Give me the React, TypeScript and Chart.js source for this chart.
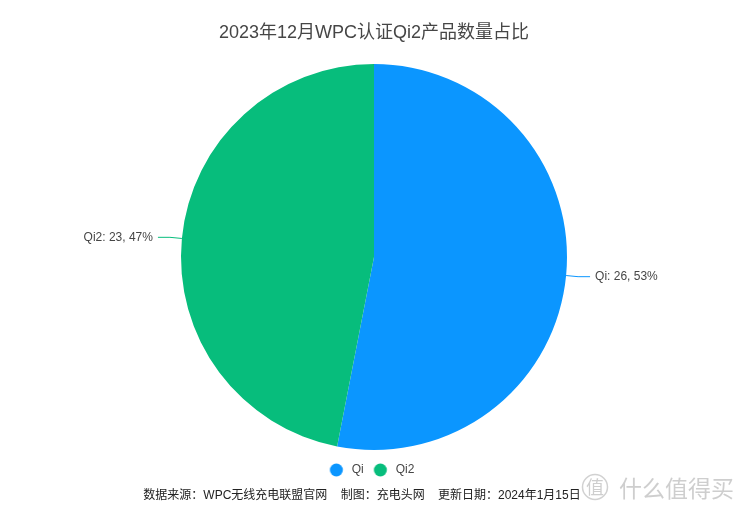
import React, { useEffect, useRef } from "react";
import { Chart, registerables } from "chart.js";

Chart.register(...registerables);

const categories = ["Qi", "Qi2"];
const values = [26, 23];
const colors = ["#0b96ff", "#07bd7c"];
const titleText = "2023年12月WPC认证Qi2产品数量占比";
const footerText = "数据来源：WPC无线充电联盟官网    制图：充电头网    更新日期：2024年1月15日";
const watermarkLogo = "值";
const watermarkText = "什么值得买";

const FONT = "'Liberation Sans', 'Noto Sans CJK SC', sans-serif";

function makeDot(color: string) {
  const c = document.createElement("canvas");
  c.width = 22;
  c.height = 14;
  const g = c.getContext("2d")!;
  g.fillStyle = color;
  g.beginPath();
  g.arc(7.7, 7, 6.5, 0, Math.PI * 2);
  g.fill();
  return c;
}

const labelPlugin = {
  id: "outLabels",
  afterDatasetsDraw(chart: any) {
    const ctx = chart.ctx;
    const meta = chart.getDatasetMeta(0);
    const data = chart.data.datasets[0].data as number[];
    const total = data.reduce((a: number, b: number) => a + b, 0);
    meta.data.forEach((arc: any, i: number) => {
      const { x, y, startAngle, endAngle, outerRadius } = arc.getProps(
        ["x", "y", "startAngle", "endAngle", "outerRadius"],
        true
      );
      const mid = (startAngle + endAngle) / 2;
      const cos = Math.cos(mid);
      const sin = Math.sin(mid);
      const x0 = x + cos * outerRadius;
      const y0 = y + sin * outerRadius;
      const x1 = x + cos * (outerRadius + 12);
      const y1 = y + sin * (outerRadius + 12);
      const dir = cos >= 0 ? 1 : -1;
      const x2 = x1 + dir * 12;
      ctx.save();
      ctx.strokeStyle = colors[i];
      ctx.lineWidth = 1;
      ctx.beginPath();
      ctx.moveTo(x0, y0);
      ctx.lineTo(x1, y1);
      ctx.lineTo(x2, y1);
      ctx.stroke();
      const pct = Math.round((data[i] / total) * 100);
      const txt = `${chart.data.labels[i]}: ${data[i]}, ${pct}%`;
      ctx.font = `12px ${FONT}`;
      ctx.fillStyle = "#464646";
      ctx.textBaseline = "middle";
      ctx.textAlign = dir > 0 ? "left" : "right";
      ctx.fillText(txt, x2 + dir * 5, y1);
      ctx.restore();
    });
  },
  afterDraw(chart: any) {
    const ctx = chart.ctx;
    ctx.save();
    ctx.font = `12px ${FONT}`;
    ctx.fillStyle = "#222222";
    ctx.textAlign = "center";
    ctx.textBaseline = "middle";
    ctx.fillText(footerText, 362, 496);
    // watermark
    ctx.strokeStyle = "rgba(190,190,190,0.7)";
    ctx.lineWidth = 1.5;
    ctx.beginPath();
    ctx.arc(595, 487, 12.5, 0, Math.PI * 2);
    ctx.stroke();
    ctx.fillStyle = "rgba(190,190,190,0.75)";
    ctx.font = `18px 'Noto Sans CJK SC', sans-serif`;
    ctx.fillText(watermarkLogo, 595, 487);
    ctx.font = `23px 'Noto Sans CJK SC', sans-serif`;
    ctx.textAlign = "left";
    ctx.fillText(watermarkText, 619, 488);
    ctx.restore();
  },
};

export default function App() {
  const ref = useRef<HTMLCanvasElement>(null);
  useEffect(() => {
    document.body.style.margin = "0";
    const dots = colors.map(makeDot);
    const chart = new Chart(ref.current!, {
      type: "pie",
      data: {
        labels: categories,
        datasets: [
          {
            data: values,
            backgroundColor: colors,
            borderWidth: 0,
            hoverOffset: 0,
          },
        ],
      },
      options: {
        animation: false,
        responsive: false,
        maintainAspectRatio: false,
        layout: { padding: { top: 0, bottom: 28, left: 0, right: 0 } },
        plugins: {
          title: {
            display: true,
            text: titleText,
            color: "#464646",
            font: { size: 18, family: FONT, weight: "normal" },
            padding: { top: 22, bottom: 20.4 },
          },
          legend: {
            display: true,
            position: "bottom",
            labels: {
              usePointStyle: true,
              pointStyleWidth: 12,
              boxHeight: 12,
              padding: 14,
              color: "#464646",
              font: { size: 12, family: FONT },
              generateLabels: (ch: any) => {
                const base = (Chart as any).overrides.pie.plugins.legend.labels.generateLabels(ch);
                return base.map((it: any, i: number) => ({ ...it, pointStyle: dots[i] }));
              },
            },
          },
          tooltip: { enabled: false },
        },
      },
      plugins: [labelPlugin],
    });
    return () => chart.destroy();
  }, []);
  return (
    <div style={{ position: "fixed", left: 0, top: 0, width: 748, height: 514 }}>
      <canvas ref={ref} width={748} height={514} style={{ width: 748, height: 514 }} />
    </div>
  );
}
